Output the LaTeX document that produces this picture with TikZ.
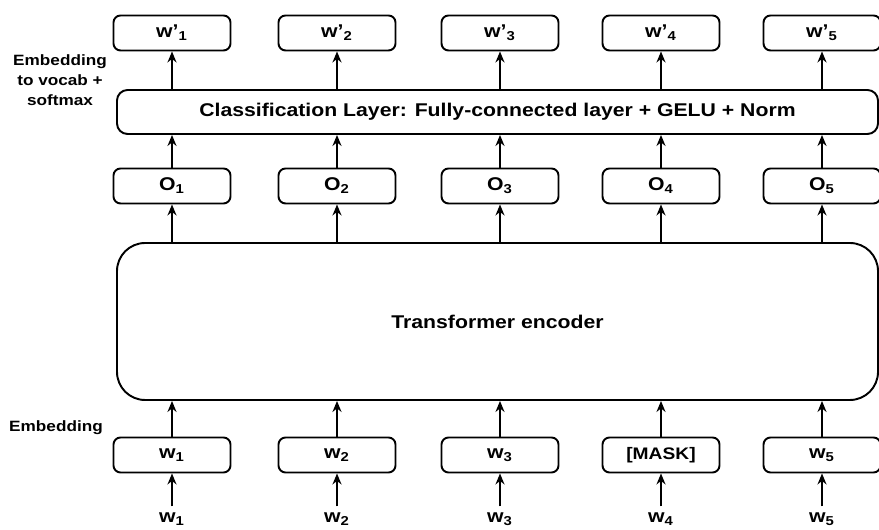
\documentclass[tikz,border=0pt]{standalone}
\usepackage{fontspec}
\setmainfont{Liberation Sans}[FakeStretch=1.15]
\usetikzlibrary{arrows.meta, positioning, calc}
\newcommand{\sub}[1]{\textsubscript{#1}}

\begin{document}
\begin{tikzpicture}[
    font=\fontsize{10.5}{12}\selectfont\bfseries,
    tok/.style={draw, line width=1.1pt, rounded corners=4pt, minimum width=2.34cm,
        minimum height=0.7cm, inner sep=0pt},
    layer/.style={draw, line width=1.1pt, rounded corners=6pt, minimum width=15.22cm,
        inner sep=0pt},
    side/.style={align=center, font=\fontsize{8.5}{11.4}\selectfont\bfseries},
    arr/.style={line width=1.1pt, -{Stealth[length=2.2mm, width=1.8mm]}}
]
\useasboundingbox (0,0) rectangle (17.58,10.6);

% outputs w'
\node[tok] (wp1) at (3.44,9.94) {w'\sub{1}};
\node[tok] (wp2) at (6.74,9.94) {w'\sub{2}};
\node[tok] (wp3) at (10.0,9.94) {w'\sub{3}};
\node[tok] (wp4) at (13.22,9.94) {w'\sub{4}};
\node[tok] (wp5) at (16.44,9.94) {w'\sub{5}};

\node[layer, minimum height=0.88cm] (cls) at (9.95,8.36)
    {Classification Layer: Fully-connected layer + GELU + Norm};

% encoder outputs
\node[tok] (o1) at (3.44,6.88) {O\sub{1}};
\node[tok] (o2) at (6.74,6.88) {O\sub{2}};
\node[tok] (o3) at (10.0,6.88) {O\sub{3}};
\node[tok] (o4) at (13.22,6.88) {O\sub{4}};
\node[tok] (o5) at (16.44,6.88) {O\sub{5}};

\node[layer, minimum height=3.14cm, rounded corners=16pt] (enc) at (9.95,4.17)
    {Transformer encoder};

% embeddings
\node[tok] (e1) at (3.44,1.5) {w\sub{1}};
\node[tok] (e2) at (6.74,1.5) {w\sub{2}};
\node[tok] (e3) at (10.0,1.5) {w\sub{3}};
\node[tok, font=\fontsize{9.5}{11}\selectfont\bfseries] (e4) at (13.22,1.5) {[MASK]};
\node[tok] (e5) at (16.44,1.5) {w\sub{5}};

% inputs
\node (in1) at (3.44,0.22) {w\sub{1}};
\node (in2) at (6.74,0.22) {w\sub{2}};
\node (in3) at (10.0,0.22) {w\sub{3}};
\node (in4) at (13.22,0.22) {w\sub{4}};
\node (in5) at (16.44,0.22) {w\sub{5}};

\node[side] (lbtop) at (1.2,9.0) {Embedding\\to vocab +\\softmax};
\node[side] (lbemb) at (1.12,2.04) {Embedding};

\draw[arr] (in1) -- (e1);
\draw[arr] (in2) -- (e2);
\draw[arr] (in3) -- (e3);
\draw[arr] (in4) -- (e4);
\draw[arr] (in5) -- (e5);

\draw[arr] (e1) -- (e1 |- enc.south);
\draw[arr] (e2) -- (e2 |- enc.south);
\draw[arr] (e3) -- (e3 |- enc.south);
\draw[arr] (e4) -- (e4 |- enc.south);
\draw[arr] (e5) -- (e5 |- enc.south);

\draw[arr] (o1 |- enc.north) -- (o1);
\draw[arr] (o2 |- enc.north) -- (o2);
\draw[arr] (o3 |- enc.north) -- (o3);
\draw[arr] (o4 |- enc.north) -- (o4);
\draw[arr] (o5 |- enc.north) -- (o5);

\draw[arr] (o1) -- (o1 |- cls.south);
\draw[arr] (o2) -- (o2 |- cls.south);
\draw[arr] (o3) -- (o3 |- cls.south);
\draw[arr] (o4) -- (o4 |- cls.south);
\draw[arr] (o5) -- (o5 |- cls.south);

\draw[arr] (wp1 |- cls.north) -- (wp1);
\draw[arr] (wp2 |- cls.north) -- (wp2);
\draw[arr] (wp3 |- cls.north) -- (wp3);
\draw[arr] (wp4 |- cls.north) -- (wp4);
\draw[arr] (wp5 |- cls.north) -- (wp5);

\end{tikzpicture}
\end{document}
